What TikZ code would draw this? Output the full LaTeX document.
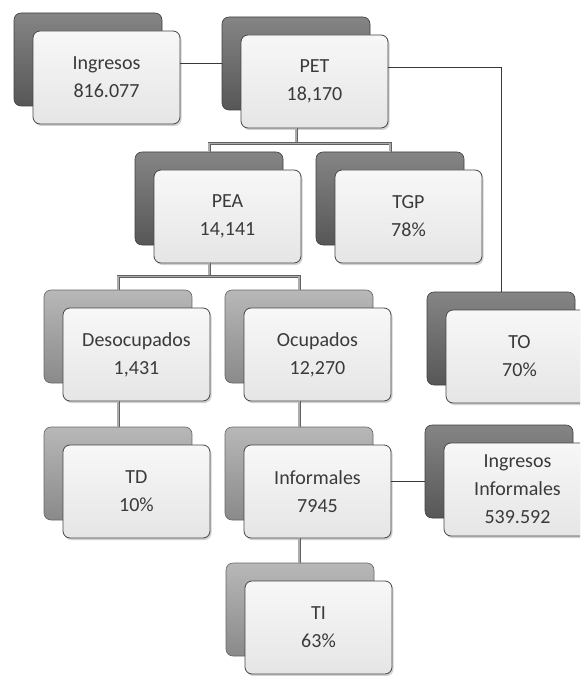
\documentclass[tikz,border=0pt]{standalone}
\usepackage{fontspec}
\setmainfont{Carlito}
\usetikzlibrary{shadows}
\definecolor{txt}{HTML}{3A3A3A}
\tikzset{
  boxbase/.style={rectangle, rounded corners=7pt, inner sep=0pt, minimum width=148pt, minimum height=93pt},
  backdark/.style={boxbase, draw=black!75, line width=0.6pt, top color=black!48, bottom color=black!66},
  backlight/.style={boxbase, draw=black!60, line width=0.6pt, top color=black!28, bottom color=black!46},
  front/.style={boxbase, minimum width=147pt, draw=black!72, line width=0.8pt,
    top color=black!3, bottom color=black!10,
    drop shadow={shadow xshift=1.5pt, shadow yshift=-2pt, opacity=0.35},
    align=center, text=txt, font=\fontsize{20}{28}\selectfont},
  tree/.style={draw=black!62, double=black!32, double distance=1.6pt, line width=0.7pt},
  link/.style={draw=black!78, line width=0.9pt}
}
\newcommand\orgbox[5]{%
  \node[#4] (#1b) at (#2+74,#3+46.5) {};
  \node[front] (#1) at (#2+92.5,#3+64.5) {#5};
}
\begin{document}
\begin{tikzpicture}[x=1pt,y=-1pt]
\clip (0,0) rectangle (580,676);
\fill[white] (0,0) rectangle (580,676);
% boxes
\orgbox{ING}{14}{13}{backdark}{Ingresos\\816.077}
\orgbox{PET}{222}{17}{backdark}{PET\\18,170}
\orgbox{PEA}{135}{152}{backdark}{PEA\\14,141}
\orgbox{TGP}{316}{152}{backdark}{TGP\\78\%}
\orgbox{DES}{44}{290}{backlight}{Desocupados\\1,431}
\orgbox{OCU}{225}{290}{backlight}{Ocupados\\12,270}
\orgbox{TO}{427}{292}{backdark}{TO\\70\%}
\orgbox{TD}{44}{427}{backlight}{TD\\10\%}
\orgbox{INF}{225}{427}{backlight}{Informales\\7945}
\orgbox{II}{425}{425}{backdark}{\fontsize{20}{24}\selectfont Ingresos\\Informales\\539.592}
\orgbox{TI}{226}{563}{backlight}{TI\\63\%}
% tree connectors
\draw[tree] (PETb |- PET.south) -- ++(0,15) coordinate (pj);
\draw[tree] (PEAb.north) |- (pj) -| (TGPb.north);
\draw[tree] (PEAb |- PEA.south) -- ++(0,13) coordinate (aj);
\draw[tree] (DESb.north) |- (aj) -| (OCUb.north);
\draw[tree] (DESb |- DES.south) -- (DESb.north |- TDb.north);
\draw[tree] (OCUb |- OCU.south) -- (OCUb.north |- INFb.north);
\draw[tree] (INFb |- INF.south) -- (INFb.north |- TIb.north);
% thin links
\draw[link] (ING.east |- PETb.west) -- (PETb.west);
\coordinate (turn) at (TOb.north |- 0,67);
\draw[link] (PET.east |- turn) -- (turn) -- (TOb.north);
\coordinate (ij) at (0,481);
\draw[link] (INF.east |- ij) -- (IIb.west |- ij);
\end{tikzpicture}
\end{document}
